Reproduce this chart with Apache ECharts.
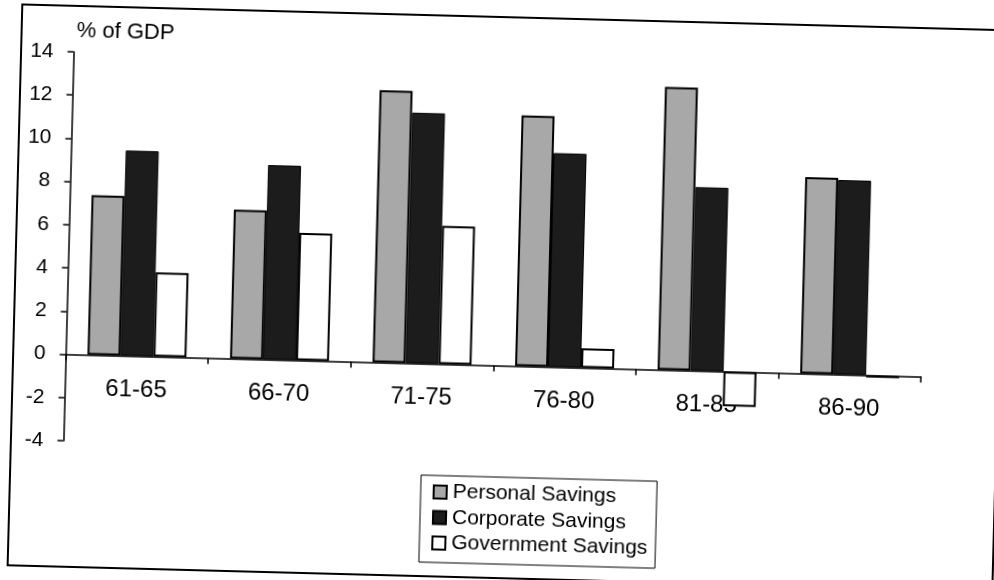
<!DOCTYPE html>
<html>
<head>
<meta charset="utf-8">
<script src="https://cdn.jsdelivr.net/npm/echarts@6/dist/echarts.min.js"></script>
<style>
  html, body { margin: 0; padding: 0; background: #fff; overflow: hidden; width: 994px; height: 580px; }
  #chart {
    position: absolute; left: 0; top: 0; width: 1010px; height: 600px;
    transform-origin: 497px 290px;
    transform: rotate(1.5deg);
  }
</style>
</head>
<body>
<div id="chart"></div>
<script>
// Savings by sector, five-year averages, % of GDP
const categories = ['61-65', '66-70', '71-75', '76-80', '81-85', '86-90'];
const personalSavings = [7.4, 6.9, 12.6, 11.6, 13.1, 9.1];
const corporateSavings = [9.5, 9.0, 11.6, 9.9, 8.5, 9.0];
const governmentSavings = [3.9, 5.9, 6.4, 0.9, -1.6, -0.1];
const seriesNames = ['Personal Savings', 'Corporate Savings', 'Government Savings'];

const FONT = '"Liberation Sans", Arial, sans-serif';
const chart = echarts.init(document.getElementById('chart'), null, { renderer: 'canvas' });

const barBase = { type: 'bar', barWidth: 33, barGap: '0%', animation: false };

// plot area bounds (px); category labels hang just under the zero line
const plotTop = 63, plotBottom = 452, yMin = -4, yMax = 14;
const zeroY = plotBottom - (0 - yMin) / (yMax - yMin) * (plotBottom - plotTop);

chart.setOption({
  backgroundColor: 'transparent',
  textStyle: { fontFamily: FONT, color: '#000' },
  title: {
    text: '% of GDP', left: 65, top: 26,
    textStyle: { fontFamily: FONT, fontSize: 22, fontWeight: 'normal', color: '#000' }
  },
  graphic: [{
    type: 'rect', silent: true,
    shape: { x: 15, y: 17, width: 985, height: 561 },
    style: { fill: 'none', stroke: '#000', lineWidth: 2 }
  }],
  grid: { left: 67.5, right: 1010 - 923, top: plotTop, bottom: 600 - plotBottom },
  legend: {
    orient: 'vertical', left: 426, top: 477,
    padding: [6, 8, 9, 12], itemGap: 4.5,
    itemWidth: 13, itemHeight: 13, icon: 'rect',
    borderColor: '#000', borderWidth: 1, borderRadius: 0,
    textStyle: { fontFamily: FONT, fontSize: 21, color: '#000', padding: [0, 0, 0, 1] },
    data: seriesNames
  },
  xAxis: {
    type: 'category', data: categories, boundaryGap: true,
    axisLine: { onZero: true, lineStyle: { color: '#000', width: 1.5 } },
    axisTick: { show: true, alignWithLabel: false, length: 6, lineStyle: { color: '#000', width: 1.5 } },
    axisLabel: { fontFamily: FONT, fontSize: 24, color: '#000', margin: 22 - (plotBottom - zeroY), interval: 0 },
    splitLine: { show: false }
  },
  yAxis: {
    type: 'value', min: yMin, max: yMax, interval: 2,
    axisLine: { show: true, lineStyle: { color: '#000', width: 1.5 } },
    axisTick: { show: true, length: 6, lineStyle: { color: '#000', width: 1.5 } },
    axisLabel: { fontFamily: FONT, fontSize: 21, color: '#000', margin: 20 },
    splitLine: { show: false }
  },
  series: [
    Object.assign({}, barBase, {
      name: seriesNames[0], data: personalSavings,
      itemStyle: { color: '#a8a8a8', borderColor: '#000', borderWidth: 2 }
    }),
    Object.assign({}, barBase, {
      name: seriesNames[1], data: corporateSavings,
      itemStyle: { color: '#1c1c1c', borderColor: '#000', borderWidth: 1 }
    }),
    Object.assign({}, barBase, {
      name: seriesNames[2], data: governmentSavings,
      itemStyle: { color: '#ffffff', borderColor: '#000', borderWidth: 2 }
    })
  ]
});
</script>
</body>
</html>
